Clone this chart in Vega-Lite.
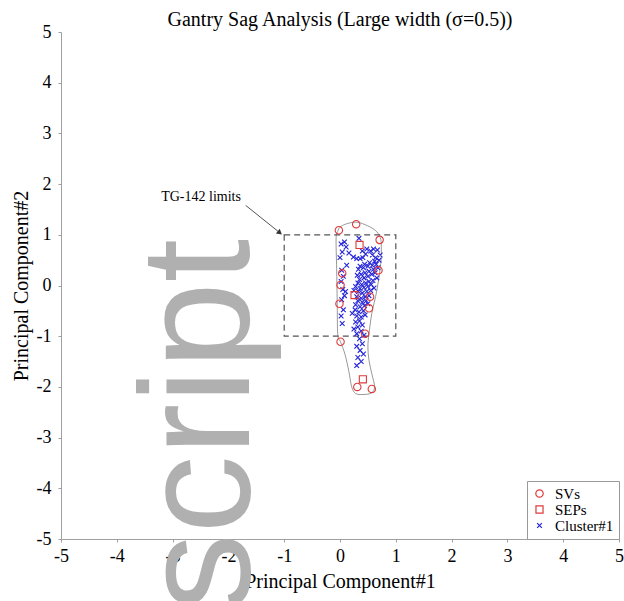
{
  "$schema": "https://vega.github.io/schema/vega-lite/v6.json",
  "width": 558,
  "height": 507,
  "autosize": "none",
  "padding": {"left": 61, "top": 32, "right": 5, "bottom": 62},
  "background": "white",
  "title": {"text": "Gantry Sag Analysis (Large width (σ=0.5))", "font": "Liberation Serif", "fontSize": 20, "fontWeight": "normal", "color": "black", "frame": "group", "anchor": "middle", "offset": -7},
  "config": {
    "view": {"stroke": null},
    "axis": {"domainColor": "#a0a0a0", "tickColor": "#a0a0a0", "labelFont": "Liberation Serif", "labelFontSize": 18, "labelColor": "black", "titleFont": "Liberation Serif", "titleFontSize": 20, "titleFontWeight": "normal", "titleColor": "black", "grid": false, "tickSize": 3, "zindex": 1, "labelFlush": false, "labelExpr": "'' + datum.value"}
  },
  "datasets": {
    "pts": [
      {"type": "Cluster#1", "pc1": 0.34, "pc2": 0.93}, {"type": "Cluster#1", "pc1": 0.02, "pc2": 0.82}, {"type": "Cluster#1", "pc1": 0.08, "pc2": 0.86}, {"type": "Cluster#1", "pc1": 0.11, "pc2": 0.76}, {"type": "Cluster#1", "pc1": 0.04, "pc2": 0.66}, {"type": "Cluster#1", "pc1": 0.0, "pc2": 0.55}, {"type": "Cluster#1", "pc1": 0.16, "pc2": 0.64}, {"type": "Cluster#1", "pc1": 0.4, "pc2": 0.68}, {"type": "Cluster#1", "pc1": 0.46, "pc2": 0.62}, {"type": "Cluster#1", "pc1": 0.24, "pc2": 0.56},
      {"type": "Cluster#1", "pc1": 0.3, "pc2": 0.53}, {"type": "Cluster#1", "pc1": 0.36, "pc2": 0.53}, {"type": "Cluster#1", "pc1": 0.41, "pc2": 0.55}, {"type": "Cluster#1", "pc1": 0.58, "pc2": 0.6}, {"type": "Cluster#1", "pc1": 0.64, "pc2": 0.55}, {"type": "Cluster#1", "pc1": 0.62, "pc2": 0.48}, {"type": "Cluster#1", "pc1": 0.53, "pc2": 0.45}, {"type": "Cluster#1", "pc1": 0.44, "pc2": 0.42}, {"type": "Cluster#1", "pc1": 0.36, "pc2": 0.38}, {"type": "Cluster#1", "pc1": 0.33, "pc2": 0.32},
      {"type": "Cluster#1", "pc1": 0.42, "pc2": 0.35}, {"type": "Cluster#1", "pc1": 0.5, "pc2": 0.38}, {"type": "Cluster#1", "pc1": 0.58, "pc2": 0.4}, {"type": "Cluster#1", "pc1": 0.65, "pc2": 0.42}, {"type": "Cluster#1", "pc1": 0.68, "pc2": 0.35}, {"type": "Cluster#1", "pc1": 0.6, "pc2": 0.32}, {"type": "Cluster#1", "pc1": 0.52, "pc2": 0.28}, {"type": "Cluster#1", "pc1": 0.45, "pc2": 0.25}, {"type": "Cluster#1", "pc1": 0.38, "pc2": 0.22}, {"type": "Cluster#1", "pc1": 0.31, "pc2": 0.2},
      {"type": "Cluster#1", "pc1": 0.35, "pc2": 0.12}, {"type": "Cluster#1", "pc1": 0.43, "pc2": 0.15}, {"type": "Cluster#1", "pc1": 0.5, "pc2": 0.18}, {"type": "Cluster#1", "pc1": 0.57, "pc2": 0.22}, {"type": "Cluster#1", "pc1": 0.63, "pc2": 0.25}, {"type": "Cluster#1", "pc1": 0.66, "pc2": 0.15}, {"type": "Cluster#1", "pc1": 0.59, "pc2": 0.1}, {"type": "Cluster#1", "pc1": 0.52, "pc2": 0.08}, {"type": "Cluster#1", "pc1": 0.46, "pc2": 0.05}, {"type": "Cluster#1", "pc1": 0.39, "pc2": 0.02},
      {"type": "Cluster#1", "pc1": 0.32, "pc2": 0.05}, {"type": "Cluster#1", "pc1": 0.28, "pc2": -0.02}, {"type": "Cluster#1", "pc1": 0.36, "pc2": -0.06}, {"type": "Cluster#1", "pc1": 0.43, "pc2": -0.04}, {"type": "Cluster#1", "pc1": 0.5, "pc2": -0.02}, {"type": "Cluster#1", "pc1": 0.56, "pc2": 0.02}, {"type": "Cluster#1", "pc1": 0.61, "pc2": -0.05}, {"type": "Cluster#1", "pc1": 0.55, "pc2": -0.1}, {"type": "Cluster#1", "pc1": 0.48, "pc2": -0.12}, {"type": "Cluster#1", "pc1": 0.4, "pc2": -0.15},
      {"type": "Cluster#1", "pc1": 0.33, "pc2": -0.12}, {"type": "Cluster#1", "pc1": 0.25, "pc2": -0.1}, {"type": "Cluster#1", "pc1": 0.3, "pc2": -0.22}, {"type": "Cluster#1", "pc1": 0.38, "pc2": -0.25}, {"type": "Cluster#1", "pc1": 0.45, "pc2": -0.22}, {"type": "Cluster#1", "pc1": 0.52, "pc2": -0.2}, {"type": "Cluster#1", "pc1": 0.47, "pc2": -0.3}, {"type": "Cluster#1", "pc1": 0.4, "pc2": -0.33}, {"type": "Cluster#1", "pc1": 0.32, "pc2": -0.3}, {"type": "Cluster#1", "pc1": 0.28, "pc2": -0.38},
      {"type": "Cluster#1", "pc1": 0.36, "pc2": -0.42}, {"type": "Cluster#1", "pc1": 0.44, "pc2": -0.4}, {"type": "Cluster#1", "pc1": 0.5, "pc2": -0.36}, {"type": "Cluster#1", "pc1": 0.42, "pc2": -0.5}, {"type": "Cluster#1", "pc1": 0.34, "pc2": -0.52}, {"type": "Cluster#1", "pc1": 0.27, "pc2": -0.48}, {"type": "Cluster#1", "pc1": 0.22, "pc2": -0.55}, {"type": "Cluster#1", "pc1": 0.3, "pc2": -0.6}, {"type": "Cluster#1", "pc1": 0.38, "pc2": -0.62}, {"type": "Cluster#1", "pc1": 0.45, "pc2": -0.58},
      {"type": "Cluster#1", "pc1": 0.35, "pc2": -0.7}, {"type": "Cluster#1", "pc1": 0.28, "pc2": -0.72}, {"type": "Cluster#1", "pc1": 0.4, "pc2": -0.78}, {"type": "Cluster#1", "pc1": 0.32, "pc2": -0.82}, {"type": "Cluster#1", "pc1": 0.25, "pc2": -0.86}, {"type": "Cluster#1", "pc1": 0.38, "pc2": -0.9}, {"type": "Cluster#1", "pc1": 0.3, "pc2": -0.95}, {"type": "Cluster#1", "pc1": 0.43, "pc2": -0.98}, {"type": "Cluster#1", "pc1": 0.35, "pc2": -1.05}, {"type": "Cluster#1", "pc1": 0.4, "pc2": -1.15},
      {"type": "Cluster#1", "pc1": 0.3, "pc2": -1.2}, {"type": "Cluster#1", "pc1": 0.36, "pc2": -1.28}, {"type": "Cluster#1", "pc1": 0.42, "pc2": -1.35}, {"type": "Cluster#1", "pc1": 0.32, "pc2": -1.42}, {"type": "Cluster#1", "pc1": 0.38, "pc2": -1.5}, {"type": "Cluster#1", "pc1": 0.3, "pc2": -1.58},
      {"type": "Cluster#1", "pc1": 0.03, "pc2": 0.3}, {"type": "Cluster#1", "pc1": 0.06, "pc2": 0.18}, {"type": "Cluster#1", "pc1": 0.02, "pc2": 0.08}, {"type": "Cluster#1", "pc1": 0.05, "pc2": -0.08}, {"type": "Cluster#1", "pc1": 0.08, "pc2": -0.2}, {"type": "Cluster#1", "pc1": 0.03, "pc2": -0.28}, {"type": "Cluster#1", "pc1": 0.06, "pc2": -0.48}, {"type": "Cluster#1", "pc1": 0.02, "pc2": -0.6}, {"type": "Cluster#1", "pc1": 0.04, "pc2": -0.75}, {"type": "Cluster#1", "pc1": 0.12, "pc2": 0.4},
      {"type": "Cluster#1", "pc1": 0.1, "pc2": -0.12}, {"type": "Cluster#1", "pc1": 0.7, "pc2": 0.5}, {"type": "Cluster#1", "pc1": 0.72, "pc2": 0.6}, {"type": "Cluster#1", "pc1": 0.67, "pc2": 0.7}, {"type": "Cluster#1", "pc1": 0.6, "pc2": 0.72}, {"type": "Cluster#1", "pc1": 0.55, "pc2": 0.68}, {"type": "Cluster#1", "pc1": 0.48, "pc2": 0.72},
      {"type": "SEPs", "pc1": 0.35, "pc2": 0.8}, {"type": "SEPs", "pc1": 0.26, "pc2": -0.19}, {"type": "SEPs", "pc1": 0.41, "pc2": -1.85},
      {"type": "SVs", "pc1": 0.29, "pc2": 1.21}, {"type": "SVs", "pc1": -0.02, "pc2": 1.09}, {"type": "SVs", "pc1": 0.71, "pc2": 0.9}, {"type": "SVs", "pc1": 0.69, "pc2": 0.3}, {"type": "SVs", "pc1": 0.04, "pc2": 0.24}, {"type": "SVs", "pc1": 0.01, "pc2": 0.01}, {"type": "SVs", "pc1": -0.01, "pc2": -0.36}, {"type": "SVs", "pc1": 0.54, "pc2": -0.22}, {"type": "SVs", "pc1": 0.52, "pc2": -0.45}, {"type": "SVs", "pc1": 0.45, "pc2": -0.95}, {"type": "SVs", "pc1": 0.01, "pc2": -1.11}, {"type": "SVs", "pc1": 0.31, "pc2": -2.0}, {"type": "SVs", "pc1": 0.57, "pc2": -2.04}
    ],
    "contour": [
      {"i": 1, "pc1": 0.28, "pc2": 1.25}, {"i": 2, "pc1": 0.45, "pc2": 1.2}, {"i": 3, "pc1": 0.63, "pc2": 1.09}, {"i": 4, "pc1": 0.72, "pc2": 0.95}, {"i": 5, "pc1": 0.74, "pc2": 0.77}, {"i": 6, "pc1": 0.73, "pc2": 0.43}, {"i": 7, "pc1": 0.66, "pc2": -0.1}, {"i": 8, "pc1": 0.57, "pc2": -0.55}, {"i": 9, "pc1": 0.52, "pc2": -0.95}, {"i": 10, "pc1": 0.5, "pc2": -1.21}, {"i": 11, "pc1": 0.52, "pc2": -1.48}, {"i": 12, "pc1": 0.57, "pc2": -1.74}, {"i": 13, "pc1": 0.62, "pc2": -2.0}, {"i": 14, "pc1": 0.56, "pc2": -2.12}, {"i": 15, "pc1": 0.41, "pc2": -2.15}, {"i": 16, "pc1": 0.28, "pc2": -2.13}, {"i": 17, "pc1": 0.21, "pc2": -2.0}, {"i": 18, "pc1": 0.16, "pc2": -1.7}, {"i": 19, "pc1": 0.09, "pc2": -1.36}, {"i": 20, "pc1": 0.01, "pc2": -1.11}, {"i": 21, "pc1": -0.04, "pc2": -0.97}, {"i": 22, "pc1": -0.05, "pc2": -0.32}, {"i": 23, "pc1": -0.06, "pc2": 0.34}, {"i": 24, "pc1": -0.07, "pc2": 0.93}, {"i": 25, "pc1": -0.04, "pc2": 1.07}, {"i": 26, "pc1": 0.0, "pc2": 1.15}, {"i": 27, "pc1": 0.1, "pc2": 1.21}
    ]
  },
  "layer": [
    {
      "data": {"name": "contour"},
      "mark": {"type": "line", "interpolate": "cardinal-closed", "color": "#8c8c8c", "strokeWidth": 0.9},
      "encoding": {
        "x": {"field": "pc1", "type": "quantitative", "scale": {"domain": [-5, 5], "nice": false, "zero": false}, "axis": {"values": [-5, -4, -3, -2, -1, 0, 1, 2, 3, 4, 5], "title": "Principal Component#1", "labelPadding": 5, "titlePadding": 6}},
        "y": {"field": "pc2", "type": "quantitative", "scale": {"domain": [-5, 5], "nice": false, "zero": false}, "axis": {"values": [-5, -4, -3, -2, -1, 0, 1, 2, 3, 4, 5], "title": "Principal Component#2", "labelPadding": 7, "titlePadding": 5}},
        "order": {"field": "i", "type": "quantitative"}
      }
    },
    {
      "data": {"values": [{"label": "TG-142 limits"}]},
      "mark": {"type": "rect", "fillOpacity": 0, "fill": "white", "stroke": "#555555", "strokeWidth": 1.2, "strokeDash": [6, 4]},
      "encoding": {"x": {"datum": -1}, "x2": {"datum": 1}, "y": {"datum": -1}, "y2": {"datum": 1}}
    },
    {
      "data": {"values": [{"label": "TG-142 limits"}]},
      "mark": {"type": "rule", "color": "#555555", "strokeWidth": 1},
      "encoding": {"x": {"datum": -1.69}, "y": {"datum": 1.58}, "x2": {"datum": -1.1}, "y2": {"datum": 1.06}}
    },
    {
      "data": {"values": [{"label": "TG-142 limits"}]},
      "mark": {"type": "point", "shape": "triangle", "filled": true, "color": "#333333", "size": 36, "angle": 129, "opacity": 1},
      "encoding": {"x": {"datum": -1.09}, "y": {"datum": 1.05}}
    },
    {
      "data": {"values": [{"label": "TG-142 limits"}]},
      "mark": {"type": "text", "font": "Liberation Serif", "fontSize": 14, "color": "black", "align": "center", "baseline": "middle"},
      "encoding": {"x": {"datum": -2.49}, "y": {"datum": 1.74}, "text": {"field": "label"}}
    },
    {
      "data": {"name": "pts"},
      "mark": {"type": "point", "filled": false, "strokeWidth": 1.1, "opacity": 1},
      "encoding": {
        "x": {"field": "pc1", "type": "quantitative"},
        "y": {"field": "pc2", "type": "quantitative"},
        "color": {"field": "type", "type": "nominal", "scale": {"domain": ["SVs", "SEPs", "Cluster#1"], "range": ["#e03a3a", "#e03a3a", "#2424d8"]}, "legend": {"title": null, "orient": "none", "legendX": 466, "legendY": 449, "padding": 5, "strokeColor": "#999999", "fillColor": "white", "labelFont": "Liberation Serif", "labelFontSize": 15, "labelColor": "black", "rowPadding": 0, "labelOffset": 8, "symbolStrokeWidth": 1.2}},
        "shape": {"field": "type", "type": "nominal", "scale": {"domain": ["SVs", "SEPs", "Cluster#1"], "range": ["circle", "square", "M-0.7,-0.7L0.7,0.7M-0.7,0.7L0.7,-0.7"]}},
        "size": {"field": "type", "type": "nominal", "scale": {"domain": ["SVs", "SEPs", "Cluster#1"], "range": [55, 45, 22]}}
      }
    },
    {
      "data": {"values": [{"label": "script"}]},
      "mark": {"type": "text", "font": "Liberation Sans", "fontSize": 156, "color": "#b0b0b0", "angle": 270, "align": "right", "baseline": "alphabetic"},
      "encoding": {"x": {"datum": -1.63}, "y": {"datum": 0.92}, "text": {"field": "label"}}
    }
  ]
}
